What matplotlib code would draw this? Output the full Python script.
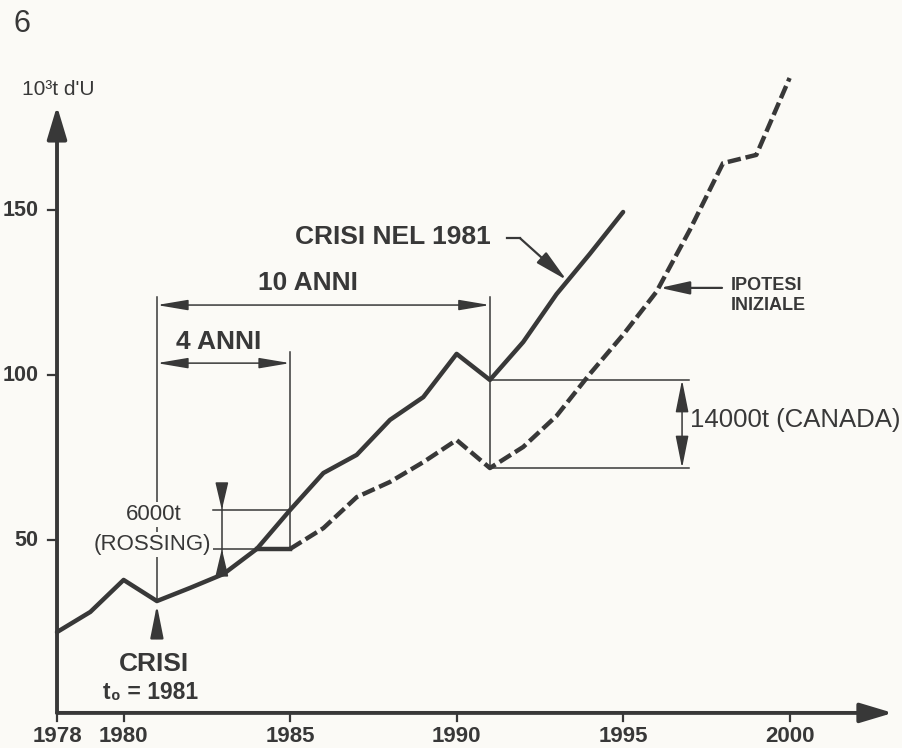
import matplotlib.pyplot as plt

# data (10^3 t of uranium)
crisis_years = [1978, 1979, 1980, 1981, 1982, 1983, 1984, 1985, 1986, 1987,
                1988, 1989, 1990, 1991, 1992, 1993, 1994, 1995]
crisis_vals = [22.1, 28.2, 37.9, 31.5, 35.5, 39.7, 47.3, 59.1, 70.3, 75.8,
               86.4, 93.3, 106.4, 98.5, 110.0, 124.5, 136.7, 149.4]

initial_years = [1984, 1985, 1986, 1987, 1988, 1989, 1990, 1991, 1992, 1993,
                 1994, 1995, 1996, 1997, 1998, 1999, 2000]
initial_vals = [47.3, 47.3, 53.6, 63.0, 67.6, 73.6, 80.3, 71.8, 78.2, 87.6,
                100.3, 112.2, 125.2, 143.9, 164.2, 166.7, 190.0]

xtick_years = [1978, 1980, 1985, 1990, 1995, 2000]
ytick_vals = [50, 100, 150]
ytick_labels = ['50', '100', '150']

INK = '#383838'
BG = '#fbfaf6'
FAM = ['Liberation Sans', 'DejaVu Sans']
BOLD = dict(family=FAM, weight='bold', color=INK)
REG = dict(family=FAM, color=INK)

fig = plt.figure(figsize=(9.02, 7.48), dpi=100, facecolor=BG)
ax = fig.add_axes([0, 0, 1, 1])
ax.set_facecolor(BG)
ax.set_xlim(1976.288, 2003.375)
ax.set_ylim(-13.03, 213.64)
ax.axis('off')


def arrow(x0, y0, x1, y1, style='-|>', hl=0.9, hw=0.2, lw=1.1, ms=20):
    ax.annotate('', xy=(x1, y1), xytext=(x0, y0),
                arrowprops=dict(arrowstyle=f'{style},head_length={hl},head_width={hw}',
                                color=INK, lw=lw, mutation_scale=ms,
                                shrinkA=0, shrinkB=0))


# axes with arrows
x_axis_v = -2.4
arrow(1978, x_axis_v, 2003.1, x_axis_v, lw=2.8, hl=1.0, hw=0.3)
arrow(1978, x_axis_v, 1978, 181.5, lw=2.8, hl=1.0, hw=0.3)
for yr in xtick_years:
    ax.plot([yr, yr], [x_axis_v, x_axis_v - 2.4], color=INK, lw=1.6)
    ax.text(yr, -9.6, str(yr), ha='center', va='center', fontsize=16, **BOLD)

for v, lab in zip(ytick_vals, ytick_labels):
    ax.plot([1977.73, 1978], [v, v], color=INK, lw=1.6)
    ax.text(1977.45, v, lab, ha='right', va='center', fontsize=15.5, **BOLD)

ax.text(1976.68, 206.4, '6', ha='left', va='center', fontsize=22, **REG)
ax.text(1976.95, 186.4, "10³t d'U", ha='left', va='center', fontsize=15, **REG)

# curves
ax.plot(crisis_years, crisis_vals, color=INK, lw=3.2,
        solid_joinstyle='round', solid_capstyle='round', zorder=3)
ax.plot(initial_years[:2], initial_vals[:2], color=INK, lw=3.2, zorder=3)
ax.plot(initial_years[1:], initial_vals[1:], color=INK, lw=3.2,
        dashes=(3, 1.1), dash_capstyle='butt', zorder=3)

# reference lines
thin = dict(color=INK, lw=1.1, zorder=2)
ax.plot([1981, 1981], [123.6, crisis_vals[3]], **thin)
ax.plot([1991, 1991], [123.6, initial_vals[7]], **thin)
ax.plot([1985, 1985], [107.0, initial_vals[1]], **thin)
arrow(1981, 121.2, 1991, 121.2, style='<|-|>', hl=0.95, hw=0.16)
arrow(1981, 103.6, 1985, 103.6, style='<|-|>', hl=0.95, hw=0.16)

ax.text(1984.05, 127.9, '10 ANNI', ha='left', va='center', fontsize=19, **BOLD)
ax.text(1981.56, 110.0, '4 ANNI', ha='left', va='center', fontsize=19, **BOLD)

# 6000t (Rossing)
ax.plot([1982.68, 1985], [crisis_vals[7]] * 2, **thin)
ax.plot([1982.68, 1985], [initial_vals[1]] * 2, **thin)
ax.plot([1982.95, 1982.95], [65.2, 40.9], **thin)
arrow(1982.95, 65.2, 1982.95, crisis_vals[7], hl=0.85, hw=0.2)
arrow(1982.95, 40.9, 1982.95, initial_vals[1], hl=0.85, hw=0.2)
box = dict(facecolor=BG, edgecolor='none', pad=1.5)
ax.text(1980.9, 57.8, '6000t', ha='center', va='center', fontsize=16,
        bbox=box, zorder=4, **REG)
ax.text(1980.85, 48.7, '(ROSSING)', ha='center', va='center', fontsize=16,
        bbox=box, zorder=4, **REG)

# 14000t (Canada)
ax.plot([1991, 1996.98], [crisis_vals[13]] * 2, **thin)
ax.plot([1991, 1996.98], [initial_vals[7]] * 2, **thin)
arrow(1996.77, crisis_vals[13], 1996.77, initial_vals[7], style='<|-|>',
      hl=1.0, hw=0.2)
ax.text(1997.0, 86.4, '14000t (CANADA)', ha='left', va='center', fontsize=18.5,
        **REG)

# labels for the two curves
ax.text(1985.16, 141.8, 'CRISI NEL 1981', ha='left', va='center', fontsize=19,
        **BOLD)
ax.plot([1991.51, 1991.9], [141.5, 141.5], color=INK, lw=1.6)
arrow(1991.9, 141.5, 1993.3, 128.8, lw=1.6, hl=1.0, hw=0.22)

ax.text(1998.24, 127.0, 'IPOTESI', ha='left', va='center', fontsize=13, **BOLD)
ax.text(1998.24, 121.2, 'INIZIALE', ha='left', va='center', fontsize=13, **BOLD)
arrow(1997.97, 126.4, 1996.11, 126.4, lw=1.6, hl=0.9, hw=0.2)

arrow(1981, 20.3, 1981, 30.3, lw=1.6, hl=1.0, hw=0.2)
ax.text(1980.91, 12.4, 'CRISI', ha='center', va='center', fontsize=19, **BOLD)
ax.text(1980.8, 3.9, 't₀ = 1981', ha='center', va='center', fontsize=16.5,
        **BOLD)

fig.savefig('out.png', dpi=100, facecolor=BG)
